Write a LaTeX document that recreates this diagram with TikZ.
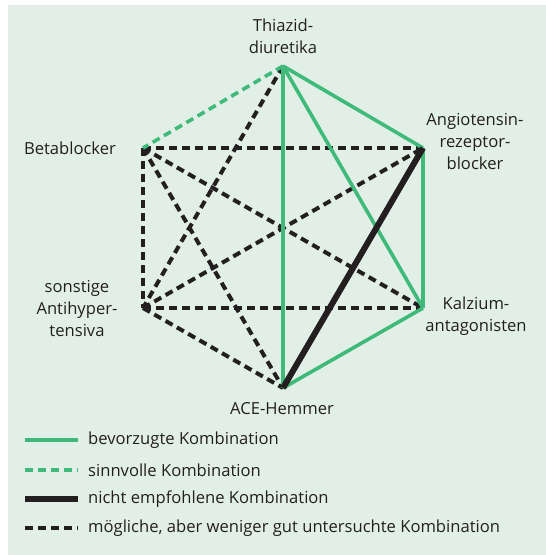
\documentclass[tikz,border=0pt]{standalone}
\usepackage{fontspec}
\setmainfont{Open Sans}
\definecolor{bggreen}{RGB}{225,239,230}
\definecolor{kombigreen}{RGB}{64,186,122}
\definecolor{kombiblack}{RGB}{35,31,32}

\begin{document}
\begin{tikzpicture}[x=1pt, y=-1pt,
  bevorzugt/.style={kombigreen, line width=3.6pt},
  sinnvoll/.style={kombigreen, line width=3.6pt, dash pattern=on 8pt off 5pt},
  nichtempf/.style={kombiblack, line width=6pt},
  moeglich/.style={kombiblack, line width=4pt, dash pattern=on 8pt off 5pt},
  wirkstoff/.style={font=\fontsize{16.6}{22}\selectfont, text=kombiblack, align=center, inner sep=0pt},
  legtext/.style={font=\fontsize{16.6}{22}\selectfont, text=kombiblack, anchor=west, inner sep=0pt}]

\useasboundingbox (0,0) rectangle (546,555);
\fill[bggreen] (8,5) rectangle (546,555);

% hexagon corners
\coordinate (thiazid) at (283,66);
\coordinate (arb)     at (423,148);
\coordinate (kalzium) at (423,308);
\coordinate (ace)     at (283,388);
\coordinate (sonst)   at (143,308);
\coordinate (beta)    at (143,148);

% possible, less studied combinations
\draw[moeglich] (thiazid) -- (sonst);
\draw[moeglich] (beta) -- (arb);
\draw[moeglich] (beta) -- (kalzium);
\draw[moeglich] (beta) -- (ace);
\draw[moeglich] (beta) -- (sonst);
\draw[moeglich] (sonst) -- (arb);
\draw[moeglich] (sonst) -- (kalzium);
\draw[moeglich] (sonst) -- (ace);

% sensible combination
\draw[sinnvoll] (thiazid) -- (beta);

% preferred combinations
\draw[bevorzugt] (thiazid) -- (arb);
\draw[bevorzugt] (thiazid) -- (kalzium);
\draw[bevorzugt] (thiazid) -- (ace);
\draw[bevorzugt] (arb) -- (kalzium);
\draw[bevorzugt] (kalzium) -- (ace);

% not recommended
\draw[nichtempf] (arb) -- (ace);

% drug classes
\node[wirkstoff] (thiazidlbl) at (283,36)  {Thiazid-\\diuretika};
\node[wirkstoff] (arblbl)     at (475,141) {Angiotensin-\\rezeptor-\\blocker};
\node[wirkstoff] (kalziumlbl) at (476,316) {Kalzium-\\antagonisten};
\node[wirkstoff] (acelbl)     at (282,409) {ACE-Hemmer};
\node[wirkstoff] (sonstlbl)   at (77,308)  {sonstige\\Antihyper-\\tensiva};
\node[wirkstoff] (betalbl)    at (70,148)  {Betablocker};

% legend
\coordinate (leg1a) at (25,440); \coordinate (leg1b) at (78,440);
\coordinate (leg2a) at (25,470); \coordinate (leg2b) at (78,470);
\coordinate (leg3a) at (25,499); \coordinate (leg3b) at (78,499);
\coordinate (leg4a) at (25,528); \coordinate (leg4b) at (78,528);
\draw[bevorzugt] (leg1a) -- (leg1b);
\draw[sinnvoll] (leg2a) -- (leg2b);
\draw[nichtempf] (leg3a) -- (leg3b);
\draw[moeglich] (leg4a) -- (leg4b);
\node[legtext] (leg1) at (88,440) {bevorzugte Kombination};
\node[legtext] (leg2) at (88,470) {sinnvolle Kombination};
\node[legtext] (leg3) at (88,499) {nicht empfohlene Kombination};
\node[legtext] (leg4) at (88,528) {mögliche, aber weniger gut untersuchte Kombination};

\end{tikzpicture}
\end{document}
